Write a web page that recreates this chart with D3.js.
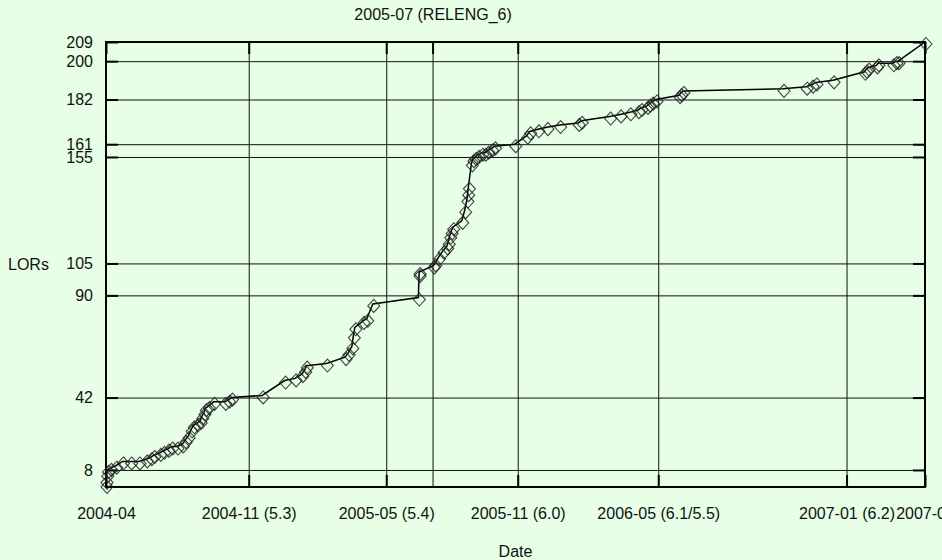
<!DOCTYPE html>
<html>
<head>
<meta charset="utf-8">
<script src="https://cdn.jsdelivr.net/npm/d3@7"></script>
<style>
  html, body { margin: 0; padding: 0; background: #e6ffe6; overflow: hidden; }
  svg { display: block; font-family: "Liberation Sans", Arial, sans-serif; font-size: 16px; }
  .grid line { stroke: #111; stroke-width: 1; }
  .ticks line { stroke: #000; stroke-width: 2; }
  .axis text { fill: #111; font-size: 16px; font-family: "Liberation Sans", Arial, sans-serif; }
</style>
</head>
<body>
<svg data-chart width="942" height="560"></svg>
<script>
// cumulative LOR count per report date
const dates = [
  '2004-04-29','2004-04-29','2004-04-30','2004-05-01','2004-05-05','2004-05-12','2004-05-21','2004-06-01',
  '2004-06-12','2004-06-22','2004-06-28','2004-07-02','2004-07-10','2004-07-15','2004-07-21','2004-07-26',
  '2004-08-02','2004-08-09','2004-08-13','2004-08-17','2004-08-21','2004-08-24','2004-08-29','2004-09-02',
  '2004-09-04','2004-09-07','2004-09-09','2004-09-13','2004-09-20','2004-10-05','2004-10-10','2004-10-14',
  '2004-11-24','2004-12-24','2005-01-07','2005-01-16','2005-01-20','2005-01-22','2005-02-18','2005-03-15',
  '2005-03-19','2005-03-24','2005-03-26','2005-03-28','2005-04-08','2005-04-13','2005-04-21','2005-06-21',
  '2005-06-22','2005-06-22','2005-07-11','2005-07-13','2005-07-18','2005-07-24','2005-07-29','2005-07-31',
  '2005-08-02','2005-08-04','2005-08-06','2005-08-18','2005-08-22','2005-08-25','2005-08-26','2005-08-27',
  '2005-08-31','2005-09-02','2005-09-05','2005-09-09','2005-09-14','2005-09-18','2005-09-22','2005-09-27',
  '2005-10-01','2005-10-28','2005-11-13','2005-11-17','2005-11-28','2005-12-10','2005-12-27','2006-01-21',
  '2006-01-25','2006-03-04','2006-03-18','2006-03-31','2006-04-11','2006-04-15','2006-04-23','2006-04-26',
  '2006-04-30','2006-05-05','2006-06-05','2006-06-07','2006-06-10','2006-10-22','2006-11-22','2006-11-30',
  '2006-12-05','2006-12-28','2007-02-08','2007-02-10','2007-02-13','2007-02-24','2007-02-26','2007-03-18',
  '2007-03-22','2007-03-25','2007-04-30'
];
const lors = [
  1, 3, 6, 8, 9, 10, 12, 12,
  12, 13, 14, 15, 16, 17, 18, 19,
  19, 20, 22, 24, 27, 29, 30, 31,
  33, 35, 37, 38, 40, 40, 41, 42,
  43, 50, 51, 53, 55, 57, 58, 61,
  63, 66, 71, 75, 78, 79, 86, 89,
  100, 101, 104, 105, 108, 111, 113, 115,
  118, 120, 122, 125, 130, 135, 138, 141,
  152, 154, 155, 156, 157, 157, 158, 159,
  160, 161, 165, 167, 168, 169, 170, 171,
  172, 174, 175, 176, 177, 178, 179, 180,
  181, 182, 184, 185, 186, 187, 188, 189,
  190, 191, 195, 196, 197, 198, 199, 199,
  200, 200, 209
];

const yTicks = [8, 42, 90, 105, 155, 161, 182, 200, 209];
const xTickDates = ['2004-04-29', '2004-11-06', '2005-05-09', '2005-11-01', '2006-05-08', '2007-01-15', '2007-04-30'];
const xTickLabels = ['2004-04', '2004-11 (5.3)', '2005-05 (5.4)', '2005-11 (6.0)', '2006-05 (6.1/5.5)', '2007-01 (6.2)', '2007-04'];
const topTickDates = ['2005-07-10'];
const topTickLabels = ['2005-07 (RELENG_6)'];

const margin = {top: 42, right: 17, bottom: 73, left: 106};
const width = 942 - margin.left - margin.right;
const height = 560 - margin.top - margin.bottom;
const parse = d3.timeParse('%Y-%m-%d');

const data = dates.map((d, i) => ({date: parse(d), value: lors[i]}));

const x = d3.scaleTime()
  .domain(d3.extent(data, d => d.date))
  .range([0, width]);

const y = d3.scaleLinear()
  .domain([0, 209])
  .range([height, 0]);

const bottomTicks = xTickDates.map(parse);
const topTicks = topTickDates.map(parse);
const allXTicks = bottomTicks.concat(topTicks);

const chart = d3.select('[data-chart]')
  .append('g')
    .attr('transform', `translate(${margin.left}, ${margin.top})`);

// grid
chart.append('g')
    .attr('class', 'grid')
    .call(d3.axisLeft(y).tickValues(yTicks).tickSize(-width).tickFormat(''))
    .call(g => g.select('.domain').remove());

chart.append('g')
    .attr('class', 'grid')
    .attr('transform', `translate(0, ${height})`)
    .call(d3.axisBottom(x).tickValues(allXTicks).tickSize(-height).tickFormat(''))
    .call(g => g.select('.domain').remove());

// inward tick marks + labels
chart.append('g')
    .attr('class', 'axis ticks')
    .call(d3.axisLeft(y).tickValues(yTicks).tickSize(-12).tickPadding(13).tickFormat(d3.format('d')))
    .call(g => g.select('.domain').remove());

chart.append('g')
    .attr('class', 'axis ticks')
    .attr('transform', `translate(${width}, 0)`)
    .call(d3.axisRight(y).tickValues(yTicks).tickSize(-12).tickFormat(''))
    .call(g => g.select('.domain').remove());

chart.append('g')
    .attr('class', 'axis ticks')
    .attr('transform', `translate(0, ${height})`)
    .call(d3.axisBottom(x).tickValues(bottomTicks).tickSize(-12).tickPadding(20.5)
      .tickFormat((d, i) => xTickLabels[i]))
    .call(g => g.select('.domain').remove());

chart.append('g')
    .attr('class', 'axis ticks')
    .call(d3.axisTop(x).tickValues(allXTicks).tickSize(-12)
      .tickFormat(''))
    .call(g => g.select('.domain').remove());

chart.append('g')
    .attr('class', 'axis')
    .call(d3.axisTop(x).tickValues(topTicks).tickSize(0).tickPadding(22)
      .tickFormat((d, i) => topTickLabels[i]))
    .call(g => g.select('.domain').remove());

// frame
chart.append('rect')
    .attr('width', width)
    .attr('height', height)
    .attr('fill', 'none')
    .attr('stroke', '#000')
    .attr('stroke-width', 2);

// series
const line = d3.line()
  .x(d => x(d.date))
  .y(d => y(d.value));

chart.append('path')
    .datum(data)
    .attr('fill', 'none')
    .attr('stroke', '#000')
    .attr('stroke-width', 1.5)
    .attr('d', line);

chart.selectAll('.marker')
    .data(data)
  .enter().append('path')
    .attr('class', 'marker')
    .attr('transform', d => `translate(${x(d.date) + 1}, ${y(d.value) + 2})`)
    .attr('d', 'M0,-6.5L6,0L0,6.5L-6,0Z')
    .attr('fill', 'none')
    .attr('stroke', '#222')
    .attr('stroke-opacity', 0.85)
    .attr('stroke-width', 1.1);

// axis titles
chart.append('text')
    .attr('x', 8 - margin.left)
    .attr('y', height / 2)
    .attr('dy', '0.35em')
    .style('fill', '#111')
    .text('LORs');

chart.append('text')
    .attr('x', width / 2)
    .attr('y', height + 70)
    .style('text-anchor', 'middle')
    .style('fill', '#111')
    .text('Date');
</script>
</body>
</html>
